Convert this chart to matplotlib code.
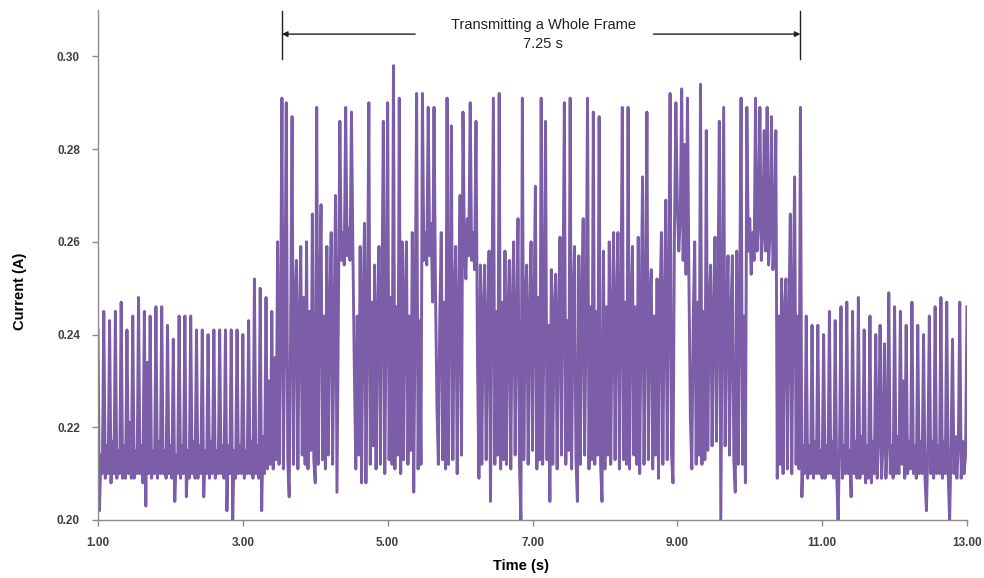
import numpy as np
import matplotlib
matplotlib.use("Agg")
import matplotlib.pyplot as plt

plt.rcParams['font.family'] = ['Liberation Sans', 'DejaVu Sans']

# Sampling of the logged current (s)
t_start = 1.0
t_step = 0.02

# Current, in mA, one row per 0.4 s
current_ma = [
    241, 202, 214, 210, 245, 209, 216, 210, 243, 208, 217, 210, 245, 209, 215, 210, 247, 209, 216, 209,
    241, 210, 221, 209, 244, 209, 215, 210, 248, 210, 216, 208, 245, 203, 234, 210, 244, 209, 215, 210,
    246, 209, 217, 210, 246, 210, 215, 209, 242, 210, 216, 209, 239, 204, 214, 210, 244, 209, 216, 210,
    244, 205, 215, 209, 244, 210, 217, 209, 241, 209, 216, 210, 241, 205, 215, 210, 240, 209, 217, 210,
    241, 209, 215, 210, 241, 210, 216, 209, 241, 202, 216, 210, 241, 200, 215, 209, 241, 210, 216, 210,
    240, 209, 215, 210, 243, 210, 217, 209, 252, 210, 216, 209, 250, 202, 218, 210, 248, 211, 230, 212,
    245, 211, 235, 213, 260, 212, 240, 291, 211, 244, 290, 213, 205, 241, 287, 212, 247, 256, 211, 243,
    259, 214, 248, 212, 260, 211, 245, 215, 266, 213, 208, 289, 212, 247, 268, 213, 244, 211, 259, 214,
    246, 262, 212, 243, 270, 206, 245, 286, 256, 262, 255, 289, 257, 263, 256, 288, 258, 232, 211, 244,
    214, 259, 208, 246, 264, 208, 243, 290, 212, 247, 216, 255, 211, 244, 259, 212, 246, 286, 210, 245,
    290, 213, 248, 212, 298, 211, 246, 214, 291, 210, 260, 213, 247, 260, 212, 244, 215, 262, 206, 246,
    292, 211, 243, 212, 292, 256, 262, 255, 289, 257, 264, 247, 289, 250, 225, 212, 244, 262, 213, 247,
    211, 291, 212, 245, 285, 213, 248, 259, 210, 244, 270, 214, 288, 258, 252, 265, 257, 290, 256, 262,
    254, 286, 235, 209, 255, 212, 246, 255, 213, 243, 258, 204, 247, 291, 212, 245, 214, 292, 211, 247,
    213, 258, 212, 244, 256, 211, 246, 260, 214, 243, 265, 212, 200, 291, 213, 247, 255, 212, 244, 260,
    215, 246, 272, 211, 248, 213, 291, 212, 245, 286, 213, 242, 204, 254, 212, 246, 253, 211, 244, 261,
    214, 247, 290, 212, 243, 215, 291, 211, 246, 259, 213, 204, 257, 212, 247, 265, 214, 244, 291, 211,
    246, 213, 288, 212, 245, 214, 287, 212, 204, 258, 211, 246, 214, 260, 212, 244, 262, 213, 247, 262,
    211, 243, 289, 213, 247, 212, 289, 211, 244, 259, 214, 246, 212, 261, 210, 245, 274, 212, 243, 288,
    213, 247, 254, 211, 244, 214, 252, 209, 246, 262, 212, 245, 269, 213, 247, 292, 214, 208, 262, 290,
    268, 258, 265, 293, 256, 281, 253, 291, 252, 222, 211, 244, 260, 212, 247, 214, 294, 212, 245, 213,
    284, 215, 246, 255, 216, 244, 261, 217, 247, 286, 200, 245, 289, 216, 246, 257, 214, 244, 257, 213,
    206, 258, 212, 245, 291, 212, 244, 208, 289, 258, 265, 253, 262, 256, 291, 258, 264, 289, 256, 262,
    284, 258, 289, 255, 262, 287, 254, 260, 284, 209, 244, 212, 252, 210, 246, 252, 211, 243, 266, 210,
    247, 274, 212, 244, 211, 289, 205, 216, 210, 244, 209, 216, 210, 242, 209, 217, 210, 242, 210, 215,
    209, 240, 209, 216, 210, 245, 210, 217, 209, 243, 210, 200, 216, 246, 209, 216, 210, 247, 210, 215,
    205, 245, 210, 217, 209, 248, 209, 218, 210, 241, 208, 216, 209, 244, 208, 217, 210, 240, 209, 218,
    242, 209, 216, 238, 209, 217, 249, 210, 216, 209, 246, 210, 218, 210, 245, 212, 230, 209, 242, 210,
    217, 211, 247, 210, 216, 209, 242, 210, 217, 210, 240, 209, 202, 216, 244, 210, 217, 209, 246, 210,
    216, 210, 248, 209, 217, 210, 247, 210, 200, 216, 239, 210, 218, 209, 216, 247, 209, 217, 210, 214,
    246,
]

# Frame transmission window (s)
frame_start = 3.54
frame_end = 10.70
frame_label = "Transmitting a Whole Frame\n7.25 s"

x_ticks = [1, 3, 5, 7, 9, 11, 13]
y_ticks = [0.20, 0.22, 0.24, 0.26, 0.28, 0.30]

current = np.array(current_ma) / 1000.0
time = t_start + t_step * np.arange(len(current))

fig = plt.figure(figsize=(9.84, 5.78), dpi=100)
ax = fig.add_axes([98 / 984, 58 / 578, 869 / 984, 510 / 578])

ax.plot(time, current, color='#7b5ea7', lw=2.1)

ax.set_xlim(1, 13)
ax.set_ylim(0.20, 0.31)
ax.set_xticks(x_ticks)
ax.set_yticks(y_ticks)
ax.set_xticklabels(["{:.2f}".format(v) for v in x_ticks])
ax.set_yticklabels(["{:.2f}".format(v) for v in y_ticks])

# Excel-like axes: only left and bottom, grey
for side in ['top', 'right']:
    ax.spines[side].set_visible(False)
for side in ['left', 'bottom']:
    ax.spines[side].set_color('#8c8c8c')
    ax.spines[side].set_linewidth(1.0)
ax.tick_params(axis='both', direction='out', length=4, width=1, color='#8c8c8c',
               labelsize=8.5, labelcolor='#404040')
ax.tick_params(axis='x', pad=8)
ax.tick_params(axis='y', pad=9)
for lab in ax.get_xticklabels() + ax.get_yticklabels():
    lab.set_fontweight('bold')

ax.set_xlabel("Time (s)", fontsize=10.5, fontweight='bold')
ax.set_ylabel("Current (A)", fontsize=10.5, fontweight='bold')
ax.xaxis.set_label_coords(0.487, -0.0765)
ax.yaxis.set_label_coords(-0.0817, 0.449)

# Frame annotation: bounds, arrows and label
for xv in [frame_start, frame_end]:
    ax.plot([xv, xv], [0.2995, 0.3097], color='#222222', lw=1.0)
arrow_y = 0.3048
ax.annotate("", xy=(frame_start, arrow_y), xytext=(5.38, arrow_y),
            arrowprops=dict(arrowstyle='-|>', color='#222222', lw=1.0,
                            mutation_scale=8, shrinkA=0, shrinkB=0))
ax.annotate("", xy=(frame_end, arrow_y), xytext=(8.67, arrow_y),
            arrowprops=dict(arrowstyle='-|>', color='#222222', lw=1.0,
                            mutation_scale=8, shrinkA=0, shrinkB=0))
ax.text(7.15, 0.3047, frame_label, ha='center', va='center', fontsize=10.5,
        color='#222222', linespacing=1.5)

fig.savefig("out.png", dpi=100)
